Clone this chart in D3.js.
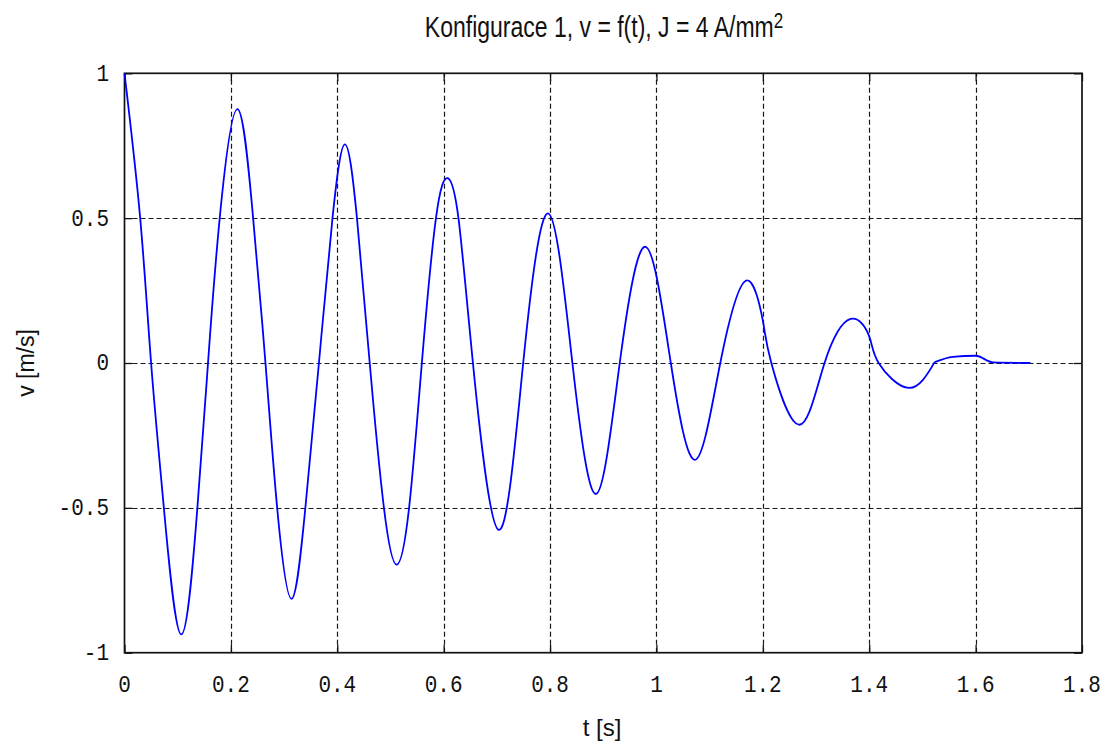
<!DOCTYPE html>
<html>
<head>
<meta charset="utf-8">
<script src="https://cdn.jsdelivr.net/npm/d3@7"></script>
<style>
  html, body { margin: 0; padding: 0; background: #fff; }
  svg { display: block; }
  .tick-label { font-family: "Liberation Mono", "DejaVu Sans Mono", monospace; font-size: 21px; fill: #111; }
  .title, .axis-title { font-family: "Liberation Sans", Arial, sans-serif; fill: #111; }
</style>
</head>
<body>
<svg id="chart" width="1107" height="742"></svg>
<script>
// Velocity response: oscillating part (time [s], velocity [m/s])
const time = [
  0, 0.0295, 0.050, 0.074, 0.1068, 0.137, 0.157, 0.179, 0.2123,
  0.2418, 0.265, 0.287, 0.314, 0.340, 0.3655, 0.391, 0.4145,
  0.437, 0.461, 0.4877, 0.5117, 0.535, 0.559, 0.5855, 0.6076,
  0.6278, 0.655, 0.7035, 0.7495, 0.7968,
  0.842, 0.8867, 0.931, 0.9797, 1.027, 1.0734, 1.120, 1.168,
  1.200, 1.216, 1.2677, 1.316, 1.365, 1.400, 1.4177, 1.4744, 1.523
];
const velocity = [
  1, 0.5, 0, -0.5, -0.937, -0.5, 0, 0.5, 0.876,
  0.5, 0, -0.5, -0.814, -0.5, 0, 0.5, 0.755,
  0.5, 0, -0.5, -0.696, -0.5, 0, 0.5, 0.638,
  0.5, 0, -0.576, 0, 0.516,
  0, -0.452, 0, 0.401, 0, -0.334, 0, 0.284,
  0.146, 0, -0.213, 0, 0.152, 0.092, 0, -0.086, 0.003
];
// Settling tail after the last swing
const tailTime = [1.523, 1.557, 1.600, 1.633, 1.703];
const tailVelocity = [0.003, 0.021, 0.025, 0.002, 0];

const xTicks = [0, 0.2, 0.4, 0.6, 0.8, 1, 1.2, 1.4, 1.6, 1.8];
const yTicks = [-1, -0.5, 0, 0.5, 1];

const titleMain = "Konfigurace 1, v = f(t), J = 4 A/mm";
const titleSup = "2";
const xLabel = "t [s]";
const yLabel = "v [m/s]";

const svg = d3.select("#chart");
const plot = { left: 124.5, top: 73.3, right: 1082, bottom: 652.7 };

const x = d3.scaleLinear().domain([0, 1.8]).range([plot.left, plot.right]);
const y = d3.scaleLinear().domain([-1, 1]).range([plot.bottom, plot.top]);

const fmt = v => (v === 0 ? "0" : String(v));

// Dashed grid lines
const grid = svg.append("g").attr("stroke", "#1a1a1a").attr("stroke-width", 1.2)
  .attr("stroke-dasharray", "5,3").attr("fill", "none");
grid.selectAll("line.vx").data(xTicks.filter(d => d > 0 && d < 1.8)).join("line")
  .attr("x1", d => Math.round(x(d)) + 0.5).attr("x2", d => Math.round(x(d)) + 0.5)
  .attr("y1", plot.bottom).attr("y2", plot.top);
grid.selectAll("line.hy").data(yTicks.filter(d => d > -1 && d < 1)).join("line")
  .attr("y1", d => Math.round(y(d)) + 0.5).attr("y2", d => Math.round(y(d)) + 0.5)
  .attr("x1", plot.left).attr("x2", plot.right);

// Inward tick marks on all four sides
const tickLen = 8;
function styleAxis(g) {
  g.select(".domain").remove();
  g.selectAll(".tick line").attr("stroke", "#111").attr("stroke-width", 1.3);
  g.selectAll(".tick text").remove();
}
svg.append("g").attr("transform", `translate(0,${plot.bottom})`)
  .call(d3.axisBottom(x).tickValues(xTicks).tickSize(-tickLen)).call(styleAxis);
svg.append("g").attr("transform", `translate(0,${plot.top})`)
  .call(d3.axisTop(x).tickValues(xTicks).tickSize(-tickLen)).call(styleAxis);
svg.append("g").attr("transform", `translate(${plot.left},0)`)
  .call(d3.axisLeft(y).tickValues(yTicks).tickSize(-tickLen)).call(styleAxis);
svg.append("g").attr("transform", `translate(${plot.right},0)`)
  .call(d3.axisRight(y).tickValues(yTicks).tickSize(-tickLen)).call(styleAxis);

// Tick labels (slightly tall monospace glyphs)
const labelStretch = 1.12;
svg.append("g").selectAll("text").data(xTicks).join("text")
  .attr("class", "tick-label").attr("text-anchor", "middle")
  .attr("transform", d => `translate(${x(d)},692) scale(1,${labelStretch})`)
  .text(fmt);
svg.append("g").selectAll("text").data(yTicks).join("text")
  .attr("class", "tick-label").attr("text-anchor", "end")
  .attr("transform", d => `translate(109,${y(d) + 7.4}) scale(1,${labelStretch})`)
  .text(fmt);

// Border
svg.append("rect")
  .attr("x", plot.left).attr("y", plot.top)
  .attr("width", plot.right - plot.left).attr("height", plot.bottom - plot.top)
  .attr("fill", "none").attr("stroke", "#111").attr("stroke-width", 1.7);

// Velocity curve
const swing = time.map((t, i) => [t, velocity[i]]);
const tail = tailTime.map((t, i) => [t, tailVelocity[i]]);
const lineSmooth = d3.line().x(d => x(d[0])).y(d => y(d[1])).curve(d3.curveNatural);
const lineTail = d3.line().x(d => x(d[0])).y(d => y(d[1])).curve(d3.curveMonotoneX);
const curveStyle = p => p.attr("fill", "none").attr("stroke", "#0000ff")
  .attr("stroke-width", 1.8).attr("stroke-linejoin", "round");
svg.append("path").datum(swing).attr("d", lineSmooth).call(curveStyle);
svg.append("path").datum(tail).attr("d", lineTail).call(curveStyle);

// Title
const title = svg.append("text").attr("class", "title")
  .attr("text-anchor", "middle").attr("font-size", 23)
  .attr("transform", "translate(604,36.7) scale(1,1.28)");
title.append("tspan").text(titleMain);
title.append("tspan").attr("dy", -6.6).attr("font-size", 17).text(titleSup);

// Axis titles
svg.append("text").attr("class", "axis-title")
  .attr("x", 602).attr("y", 736).attr("text-anchor", "middle").attr("font-size", 24)
  .text(xLabel);
svg.append("text").attr("class", "axis-title")
  .attr("transform", `translate(34,${(plot.top + plot.bottom) / 2}) rotate(-90)`)
  .attr("text-anchor", "middle").attr("font-size", 23)
  .text(yLabel);
</script>
</body>
</html>
